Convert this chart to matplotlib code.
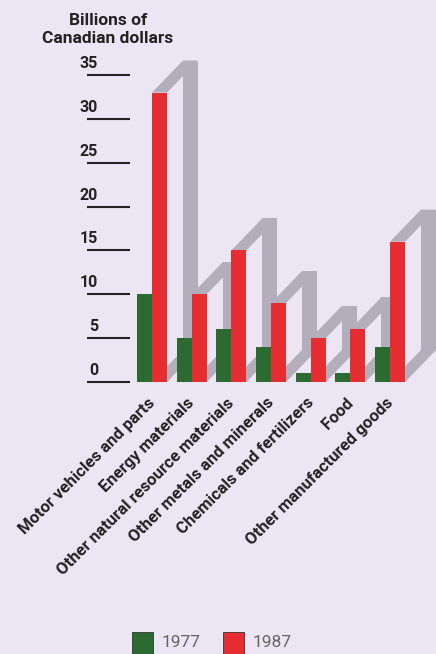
import matplotlib
matplotlib.use("Agg")
import matplotlib.pyplot as plt
from matplotlib.patches import Polygon, Rectangle

## data (billions of Canadian dollars)
categories = ["Motor vehicles and parts", "Energy materials",
              "Other natural resource materials", "Other metals and minerals",
              "Chemicals and fertilizers", "Food", "Other manufactured goods"]
years = ["1977", "1987"]
values_1977 = [10, 5, 6, 4, 1, 1, 4]
values_1987 = [33, 10, 15, 9, 5, 6, 16]
ticks = [0, 5, 10, 15, 20, 25, 30, 35]

# plot parameters
bgColor = "#ece5f3"
green = "#2b6a30"
red = "#e52d32"
shadow = "#b3aebb"
textColor = "#222222"
fontFam = ["Roboto", "DejaVu Sans"]
barW = 0.38
dx, dy = 0.78, 3.65   # depth offset of the grey back face

W, H = 436, 654
fig = plt.figure(figsize=(W / 100, H / 100), dpi=100)
fig.set_facecolor(bgColor)
ax = fig.add_axes([80 / W, 1 - 392 / H, 356 / W, 352 / H])
ax.set_facecolor(bgColor)
ax.set_xlim(-1.815, 7.159)
ax.set_ylim(-1.14, 38.99)
ax.axis("off")

xs = list(range(len(categories)))

# grey extrusion behind the 1987 bars: top face, back face, bottom face
for x, h in zip(xs, values_1987):
	x0, x1 = x, x + barW
	top = [(x0, h), (x1, h), (x1 + dx, h + dy), (x0 + dx, h + dy)]
	back = [(x0 + dx, dy), (x1 + dx, dy), (x1 + dx, h + dy), (x0 + dx, h + dy)]
	bot = [(x0, 0), (x1, 0), (x1 + dx, dy), (x0 + dx, dy)]
	for poly in (top, back, bot):
		ax.add_patch(Polygon(poly, closed=True, fc=shadow, ec="none", zorder=1))

ax.bar([x - barW / 2 for x in xs], values_1977, width=barW, color=green, zorder=3)
ax.bar([x + barW / 2 for x in xs], values_1987, width=barW, color=red, zorder=3)

# value scale: short underlines with the number sitting on them
for t in ticks:
	ax.plot([-1.639, -0.555], [t, t], color=textColor, lw=1.5, solid_capstyle="butt", zorder=2)
	ax.text(-1.361, t + 0.45, str(t), ha="right", va="bottom", fontsize=11.5,
	        fontweight="bold", family=fontFam, color=textColor)

# category labels at 45 degrees
for x, lab in zip(xs, categories):
	ax.text(x - 0.12, -1.5, lab, rotation=45, rotation_mode="anchor", ha="right", va="top",
	        fontsize=12, fontweight="bold", family=fontFam, color=textColor, clip_on=False)

# unit title
fig.text(108 / W, 1 - 25 / H, "Billions of", ha="center", va="baseline", fontsize=12.5,
         fontweight="bold", family=fontFam, color=textColor)
fig.text(108 / W, 1 - 43 / H, "Canadian dollars", ha="center", va="baseline", fontsize=12.5,
         fontweight="bold", family=fontFam, color=textColor)

# legend at the bottom
for px, col, yr, tx in [(132, green, years[0], 162), (223, red, years[1], 253)]:
	fig.add_artist(Rectangle((px / W, 1 - 657 / H), 21 / W, 25 / H, transform=fig.transFigure,
	                         fc=col, ec="#333333", lw=0.6))
	fig.text(tx / W, 1 - 635 / H, yr, ha="left", va="top", fontsize=12.5,
	         family=fontFam, color="#666666")

fig.savefig("out.png", dpi=100, facecolor=bgColor)
